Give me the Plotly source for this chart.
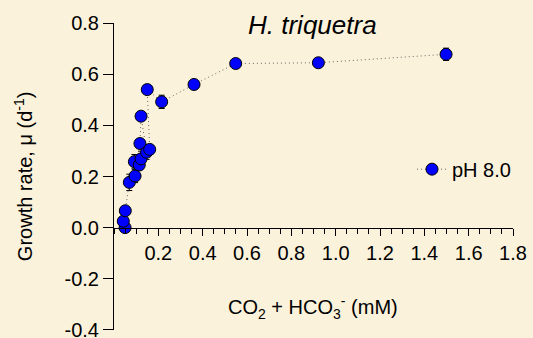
import plotly.graph_objects as go

# Data
dic_mM = [0.050, 0.042, 0.051, 0.069, 0.095, 0.092, 0.114, 0.122, 0.117,
          0.122, 0.147, 0.161, 0.150, 0.215, 0.361, 0.549, 0.922, 1.498]
growth = [0.000, 0.025, 0.066, 0.177, 0.202, 0.258, 0.245, 0.269, 0.329,
          0.436, 0.295, 0.306, 0.540, 0.492, 0.560, 0.642, 0.645, 0.678]
growth_err = [0.005, 0.005, 0.008, 0.032, 0.026, 0.028, 0.020, 0.030, 0.012,
              0.010, 0.028, 0.015, 0.010, 0.026, 0.012, 0.010, 0.010, 0.024]

x_tickvals = [0.2, 0.4, 0.6, 0.8, 1.0, 1.2, 1.4, 1.6, 1.8]
x_ticktext = ["0.2", "0.4", "0.6", "0.8", "1.0", "1.2", "1.4", "1.6", "1.8"]
y_tickvals = [-0.4, -0.2, 0.0, 0.2, 0.4, 0.6, 0.8]
y_ticktext = ["-0.4", "-0.2", "0.0", "0.2", "0.4", "0.6", "0.8"]

FONT = "Arial, Liberation Sans, sans-serif"
BG = "#FBF2DB"

fig = go.Figure()
fig.add_trace(go.Scatter(
    x=dic_mM, y=growth, mode="lines+markers", name="pH 8.0",
    line=dict(color="#666666", width=1, dash="1px,3px"),
    marker=dict(color="#0000FF", size=12, line=dict(color="black", width=1)),
    error_y=dict(type="data", array=growth_err, visible=True,
                 color="black", thickness=1, width=3),
    cliponaxis=False,
))

W, H = 533, 338
L, R, T, B = 114, 20, 22.7, 8
pw = W - L - R
ph = H - T - B

def px_x(p):
    return (p - L) / pw

def px_y(p):
    return (H - B - p) / ph

FS = 20
YMIN, YMAX = -0.4005, 0.8005

fig.update_layout(
    width=W, height=H,
    margin=dict(l=L, r=R, t=T, b=B, pad=0, autoexpand=False),
    paper_bgcolor=BG, plot_bgcolor=BG,
    font=dict(family=FONT, size=FS, color="black"),
    showlegend=True,
    legend=dict(x=px_x(412), y=px_y(169), xanchor="left", yanchor="middle",
                bgcolor="rgba(0,0,0,0)", font=dict(size=FS),
                itemwidth=30),
    xaxis=dict(
        range=[0, 1.8], anchor="free",
        position=(0 - YMIN) / (YMAX - YMIN), automargin=False,
        showline=True, linecolor="black", linewidth=1,
        showgrid=False, zeroline=False, ticklabeloverflow="allow",
        tickmode="array", tickvals=x_tickvals, ticktext=x_ticktext,
        ticks="outside", ticklen=7, tickcolor="black", tickwidth=1,
        minor=dict(tickmode="linear", tick0=0, dtick=0.05, ticks="outside",
                   ticklen=5, tickcolor="black", tickwidth=1, showgrid=False),
        tickfont=dict(size=FS),
    ),
    yaxis=dict(
        range=[YMIN, YMAX], domain=[0, 1], automargin=False,
        showline=True, linecolor="black", linewidth=1,
        showgrid=False, zeroline=False, ticklabeloverflow="allow",
        tickmode="array", tickvals=y_tickvals, ticktext=y_ticktext,
        ticks="outside", ticklen=10, tickcolor="black", tickwidth=1,
        tickfont=dict(size=FS),
    ),
    annotations=[
        dict(text="<i>H. triquetra</i>", x=px_x(312), y=px_y(25),
             xref="paper", yref="paper", showarrow=False,
             font=dict(size=26), xanchor="center", yanchor="middle"),
        dict(text="Growth rate, μ (d<sup>-1</sup>)", x=px_x(23), y=px_y(176),
             xref="paper", yref="paper", showarrow=False, textangle=-90,
             font=dict(size=FS), xanchor="center", yanchor="middle"),
        dict(text="CO<sub>2</sub> + HCO<sub>3</sub><sup>-</sup> (mM)",
             x=px_x(313), y=px_y(307),
             xref="paper", yref="paper", showarrow=False,
             font=dict(size=FS), xanchor="center", yanchor="middle"),
    ],
)

post = ("document.body.style.margin='0';"
        "document.body.style.padding='0';"
        "document.body.style.background='%s';"
        "document.documentElement.style.background='%s';" % (BG, BG))

fig.write_html("out.html", post_script=post,
               config={"displayModeBar": False})
